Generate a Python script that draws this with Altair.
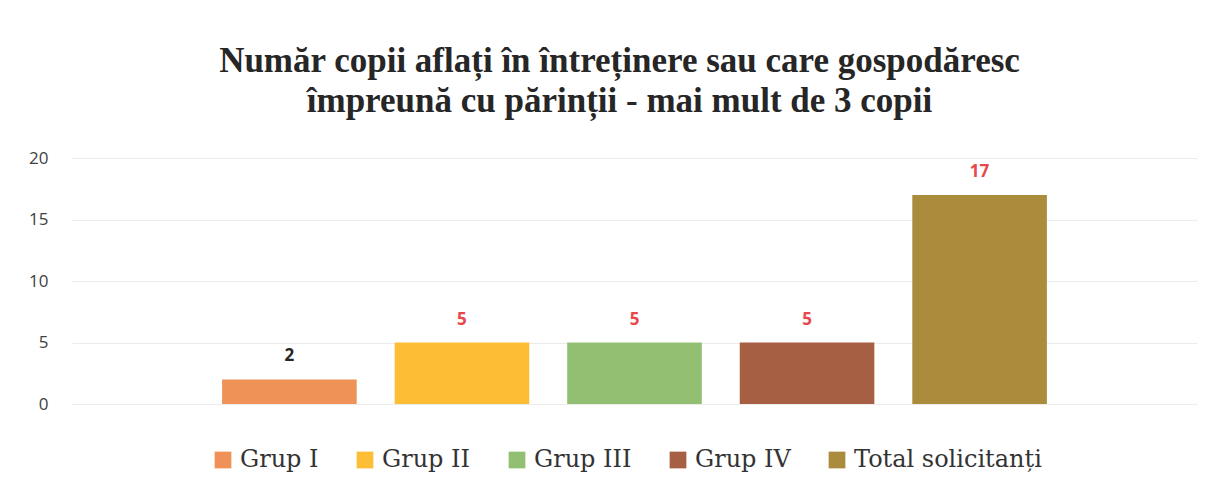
import altair as alt
import pandas as pd

categories = ["Grup I", "Grup II", "Grup III", "Grup IV", "Total solicitanți"]
values = [2, 5, 5, 5, 17]
colors = ["#EE9257", "#FDBE36", "#92BF72", "#A65F43", "#AA8C3C"]
y_ticks = [0, 5, 10, 15, 20]
title_lines = [
    "Număr copii aflați în întreținere sau care gospodăresc",
    "împreună cu părinții - mai mult de 3 copii",
]

df = pd.DataFrame({"cat": categories, "val": values})

x_enc = alt.X("cat:N", sort=categories, axis=None,
              scale=alt.Scale(paddingInner=0.22, paddingOuter=0.87))
y_enc = alt.Y("val:Q", scale=alt.Scale(domain=[0, 20], nice=False),
              axis=alt.Axis(values=y_ticks, title=None, domain=False, ticks=False,
                            labelPadding=24, labelFont="Open Sans", labelFontSize=17,
                            labelColor="#404040", gridColor="#ebebeb", gridWidth=1))

bars = alt.Chart(df).mark_bar().encode(
    x=x_enc,
    y=y_enc,
    color=alt.Color("cat:N", sort=categories,
                    scale=alt.Scale(domain=categories, range=colors),
                    legend=alt.Legend(title=None, orient="none", direction="horizontal",
                                      columns=5, legendX=139, legendY=290,
                                      symbolType="square", symbolSize=280,
                                      symbolStrokeWidth=0, symbolOpacity=1,
                                      labelFont="DejaVu Serif", labelFontSize=24,
                                      labelColor="#333333", labelOffset=5,
                                      columnPadding=34, padding=0,
                                      labelLimit=400)),
)

labels = alt.Chart(df).mark_text(
    font="Open Sans", fontSize=17, fontWeight="bold", dy=-18, baseline="alphabetic"
).encode(
    x=alt.X("cat:N", sort=categories),
    y=alt.Y("val:Q"),
    text=alt.Text("val:Q"),
    color=alt.condition(alt.datum.cat == "Grup I", alt.value("#262626"), alt.value("#E8484B")),
)

chart = alt.layer(bars, labels).properties(
    width=1125,
    height=246,
    autosize=alt.AutoSizeParams(type="none"),
    padding={"left": 64, "top": 150, "right": 16, "bottom": 80},
    title=alt.TitleParams(title_lines, font="Liberation Serif", fontSize=35,
                          fontWeight="bold", color="#262626", anchor="middle",
                          lineHeight=40, offset=30, dx=-15),
    background="white",
).configure_view(stroke=None)

chart.save("out.html", embed_options={"renderer": "svg", "actions": False})
